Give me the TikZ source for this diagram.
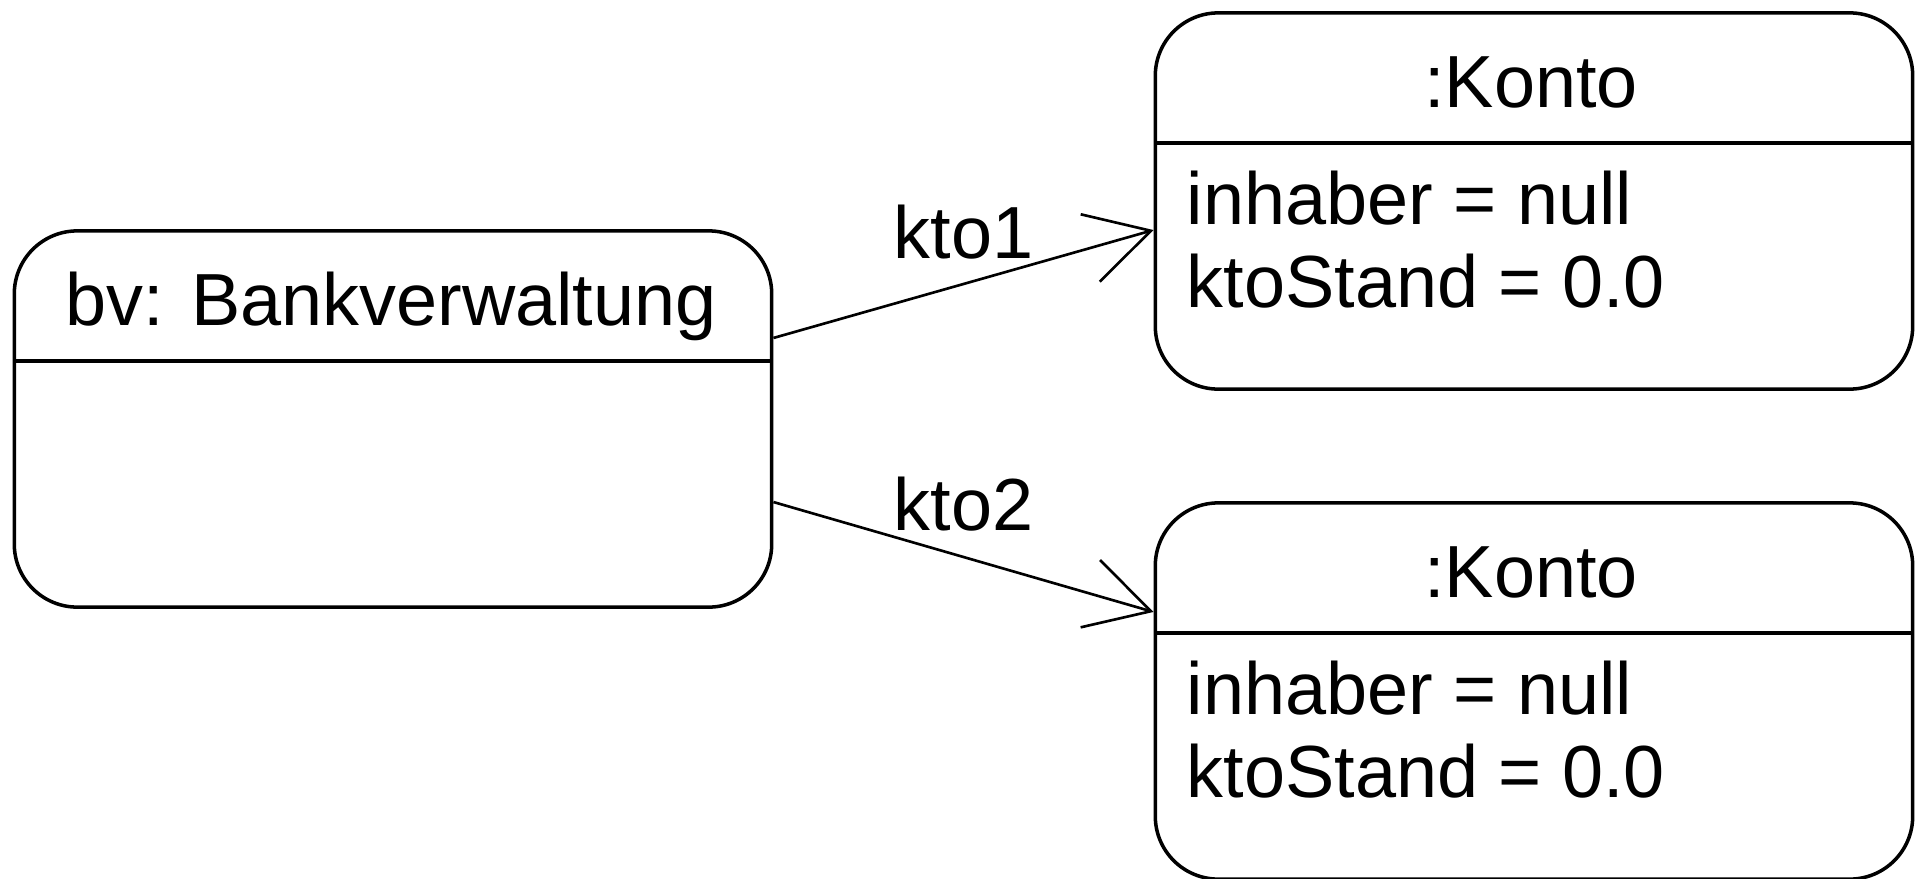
\documentclass[tikz,border=0pt]{standalone}
\usepackage{fontspec}
\setmainfont{Liberation Sans}
\usetikzlibrary{arrows.meta}

\begin{document}
\begin{tikzpicture}[x=0.01cm,y=-0.01cm,
	obj/.style={draw,line width=1pt,rounded corners=0.63cm,minimum width=7.57cm,minimum height=3.76cm,inner sep=0pt},
	txt/.style={inner sep=0pt,font=\fontsize{21pt}{25pt}\selectfont},
	link/.style={line width=0.75pt,-{Straight Barb[length=0.63cm,width=0.7cm]}}]
	\useasboundingbox (0,0) rectangle (1917,878);
	\node[obj] at (393,419) (bv) {};
	\node[obj] at (1534,201) (k1) {};
	\node[obj] at (1534,691) (k2) {};
	\draw[line width=1pt] (14,361) -- (772,361);
	\draw[line width=1pt] (1156,143) -- (1912,143);
	\draw[line width=1pt] (1156,633) -- (1912,633);
	\node[txt,anchor=base] at (391,325) (bvname) {bv: Bankverwaltung};
	\node[txt,anchor=base] at (1531,107) (k1name) {:Konto};
	\node[txt,anchor=base west] at (1186,224) (k1inh) {inhaber = null};
	\node[txt,anchor=base west] at (1186,307) (k1stand) {ktoStand = 0.0};
	\node[txt,anchor=base] at (1531,597) (k2name) {:Konto};
	\node[txt,anchor=base west] at (1186,714) (k2inh) {inhaber = null};
	\node[txt,anchor=base west] at (1186,797) (k2stand) {ktoStand = 0.0};
	\draw[link] ([yshift=0.81cm]bv.east) -- node[txt,above=0.23cm] (l1) {kto1} ([yshift=-0.29cm]k1.west);
	\draw[link] ([yshift=-0.83cm]bv.east) -- node[txt,above=0.24cm] (l2) {kto2} ([yshift=0.79cm]k2.west);
\end{tikzpicture}
\end{document}
